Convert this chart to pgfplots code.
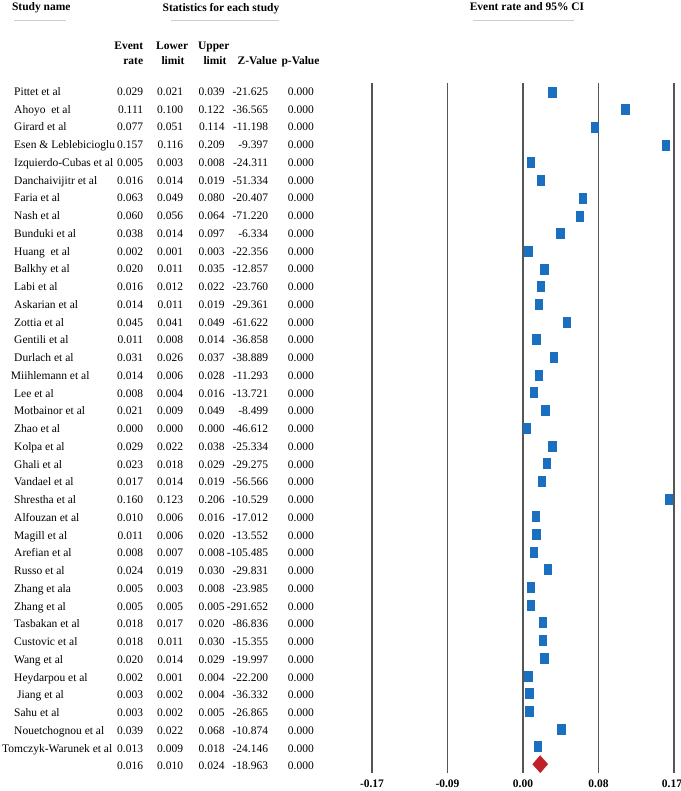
\documentclass[border=0pt]{standalone}
\usepackage{pgfplots}
\pgfplotsset{compat=1.18}
\usepackage{pgfplotstable}
\usepackage{fontspec}
\setmainfont{Liberation Serif}
\definecolor{boxblue}{RGB}{26,112,190}
\definecolor{diared}{RGB}{192,32,40}
\definecolor{rulegray}{RGB}{205,205,205}
\definecolor{gridgray}{RGB}{85,85,85}

\pgfplotstableread{
row er
1 0.029
2 0.111
3 0.077
4 0.157
5 0.005
6 0.016
7 0.063
8 0.060
9 0.038
10 0.002
11 0.020
12 0.016
13 0.014
14 0.045
15 0.011
16 0.031
17 0.014
18 0.008
19 0.021
20 0.000
21 0.029
22 0.023
23 0.017
24 0.160
25 0.010
26 0.011
27 0.008
28 0.024
29 0.005
30 0.005
31 0.018
32 0.018
33 0.020
34 0.002
35 0.003
36 0.003
37 0.039
38 0.013
}\studies

\pgfplotstableread{
row er
39 0.016
}\summary

\begin{document}
\begin{tikzpicture}[x=1bp,y=1bp, every node/.style={font=\fontsize{11.5bp}{13.8bp}\selectfont, inner sep=0pt}]
\path[use as bounding box] (0,0) rectangle (681,-791);

% headers
\node[anchor=base, font=\fontsize{11.5bp}{13.8bp}\selectfont\bfseries] at (41.3,-11) {Study name};
\node[anchor=base, font=\fontsize{11.5bp}{13.8bp}\selectfont\bfseries] at (221,-12) {Statistics for each study};
\node[anchor=base, font=\fontsize{11.5bp}{13.8bp}\selectfont\bfseries] at (527,-11) {Event rate and 95\% CI};
\draw[rulegray, line width=1bp] (14,-20.7) -- (66,-20.7);
\draw[rulegray, line width=1bp] (171,-20.7) -- (279,-20.7);
\draw[rulegray, line width=1bp] (473,-20.7) -- (574,-20.7);

\begin{scope}[every node/.style={font=\fontsize{11.5bp}{13.8bp}\selectfont\bfseries, inner sep=0pt}]
\node[anchor=base east] at (143.3,-50) {Event};
\node[anchor=base east] at (143.3,-65) {rate};
\node[anchor=base] at (172.2,-50) {Lower};
\node[anchor=base] at (173,-65) {limit};
\node[anchor=base] at (213.8,-50) {Upper};
\node[anchor=base east] at (226.7,-65) {limit};
\node[anchor=base] at (257.3,-65) {Z-Value};
\node[anchor=base] at (300.5,-65) {p-Value};
\end{scope}

% table rows
\foreach \i/\nx/\nm/\a/\b/\c/\z in {
1/14/Pittet et al/0.029/0.021/0.039/-21.625,
2/14/Ahoyo\ \ et al/0.111/0.100/0.122/-36.565,
3/14/Girard et al/0.077/0.051/0.114/-11.198,
4/14/Esen \& Leblebicioglu/0.157/0.116/0.209/-9.397,
5/14/Izquierdo-Cubas et al/0.005/0.003/0.008/-24.311,
6/14/Danchaivijitr et al/0.016/0.014/0.019/-51.334,
7/14/Faria et al/0.063/0.049/0.080/-20.407,
8/14/Nash et al/0.060/0.056/0.064/-71.220,
9/14/Bunduki et al/0.038/0.014/0.097/-6.334,
10/14/Huang\ \ et al/0.002/0.001/0.003/-22.356,
11/14/Balkhy et al/0.020/0.011/0.035/-12.857,
12/14/Labi et al/0.016/0.012/0.022/-23.760,
13/14/Askarian et al/0.014/0.011/0.019/-29.361,
14/14/Zottia et al/0.045/0.041/0.049/-61.622,
15/14/Gentili et al/0.011/0.008/0.014/-36.858,
16/14/Durlach et al/0.031/0.026/0.037/-38.889,
17/10.7/Miihlemann et al/0.014/0.006/0.028/-11.293,
18/14/Lee et al/0.008/0.004/0.016/-13.721,
19/14/Motbainor et al/0.021/0.009/0.049/-8.499,
20/14/Zhao et al/0.000/0.000/0.000/-46.612,
21/14/Kolpa et al/0.029/0.022/0.038/-25.334,
22/14/Ghali et al/0.023/0.018/0.029/-29.275,
23/14/Vandael et al/0.017/0.014/0.019/-56.566,
24/14/Shrestha et al/0.160/0.123/0.206/-10.529,
25/14/Alfouzan et al/0.010/0.006/0.016/-17.012,
26/14/Magill et al/0.011/0.006/0.020/-13.552,
27/14/Arefian et al/0.008/0.007/0.008/-105.485,
28/14/Russo et al/0.024/0.019/0.030/-29.831,
29/14/Zhang et ala/0.005/0.003/0.008/-23.985,
30/14/Zhang et al/0.005/0.005/0.005/-291.652,
31/14/Tasbakan et al/0.018/0.017/0.020/-86.836,
32/14/Custovic et al/0.018/0.011/0.030/-15.355,
33/14/Wang et al/0.020/0.014/0.029/-19.997,
34/14/Heydarpou et al/0.002/0.001/0.004/-22.200,
35/17/Jiang et al/0.003/0.002/0.004/-36.332,
36/14/Sahu et al/0.003/0.002/0.005/-26.865,
37/14/Nouetchognou et al/0.039/0.022/0.068/-10.874,
38/2/Tomczyk-Warunek et al/0.013/0.009/0.018/-24.146,
39/14//0.016/0.010/0.024/-18.963}{
  \pgfmathsetmacro\yy{-(91.5+(\i-1)*17.75+3.8)}
  \node[anchor=base west] at (\nx,\yy) {\nm};
  \node[anchor=base east] at (143.3,\yy) {\a};
  \node[anchor=base east] at (183.3,\yy) {\b};
  \node[anchor=base east] at (224.7,\yy) {\c};
  \node[anchor=base east] at (268.3,\yy) {\z};
  \node[anchor=base east] at (314,\yy) {0.000};
}

\begin{axis}[
  at={(372bp,-83bp)}, anchor=north west,
  scale only axis, width=302bp, height=690bp,
  xmin=-0.17, xmax=0.17, ymin=0.5, ymax=39.5, y dir=reverse,
  axis line style={draw=none},
  ytick=\empty,
  xtick={-0.17,-0.085,0,0.085,0.17},
  xticklabels={-0.17,-0.09,\raisebox{3.5bp}{0.00},0.08,\hspace*{-4bp}0.17},
  major tick length=0pt,
  xmajorgrids,
  grid style={gridgray, line width=1.3bp},
  xticklabel style={font=\fontsize{11.5bp}{13.8bp}\selectfont\bfseries, yshift=-7bp, inner sep=0pt, anchor=north},
  clip=false,
]
\addplot[only marks, mark=square*, mark size=5bp,
  mark options={xshift=3.5bp, xscale=0.72, fill=boxblue, draw=boxblue}]
  table[x=er, y=row]{\studies};
\addplot[only marks, mark=diamond*, mark size=8.5bp,
  mark options={xshift=3bp, xscale=1.18, fill=diared, draw=diared}]
  table[x=er, y=row]{\summary};
\end{axis}
\end{tikzpicture}
\end{document}
